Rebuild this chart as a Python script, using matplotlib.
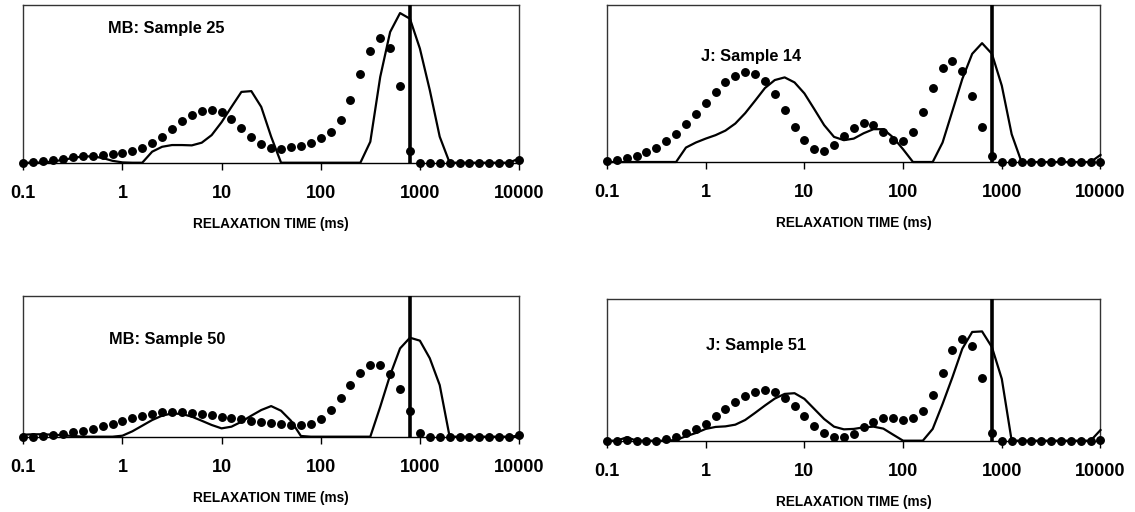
import numpy as np
import matplotlib
matplotlib.use("Agg")
import matplotlib.pyplot as plt

plt.rcParams['font.family'] = ['Liberation Sans', 'DejaVu Sans']
plt.rcParams['font.weight'] = 'bold'

# relaxation time grid (ms), 10 points per decade
t_ms = np.logspace(-1, 4, 51)
t_cut = t_ms[39]   # vertical marker ~ 800 ms

# relative amplitude (fraction of frame height)
mb25_dots = [0, 0.002, 0.01, 0.015, 0.025, 0.036, 0.042, 0.044, 0.046, 0.055,
             0.061, 0.076, 0.095, 0.127, 0.165, 0.215, 0.262, 0.304, 0.331, 0.335,
             0.319, 0.276, 0.222, 0.165, 0.116, 0.095, 0.084, 0.099, 0.108, 0.127,
             0.154, 0.192, 0.274, 0.399, 0.563, 0.711, 0.789, 0.728, 0.485, 0.076,
             0, 0, 0, 0, 0, 0, 0, 0, 0, 0, 0.015]
mb25_line = [0, 0, 0.002, 0.008, 0.018, 0.03, 0.04, 0.04, 0.03, 0.012,
             0.002, 0, 0, 0.07, 0.101, 0.112, 0.112, 0.11, 0.127, 0.175,
             0.257, 0.354, 0.449, 0.454, 0.354, 0.165, 0, 0, 0, 0,
             0, 0, 0, 0, 0, 0.133, 0.544, 0.829, 0.949, 0.913,
             0.724, 0.46, 0.165, 0, 0, 0, 0, 0, 0, 0, 0.027]

j14_dots = [0.004, 0.015, 0.028, 0.038, 0.062, 0.092, 0.132, 0.179, 0.239, 0.303,
            0.375, 0.443, 0.507, 0.548, 0.571, 0.563, 0.514, 0.435, 0.333, 0.226,
            0.139, 0.081, 0.072, 0.107, 0.164, 0.217, 0.247, 0.237, 0.19, 0.143,
            0.134, 0.194, 0.32, 0.471, 0.599, 0.646, 0.578, 0.42, 0.224, 0.038,
            0, 0, 0, 0, 0, 0, 0.008, 0, 0, 0, 0]
j14_line = [0, 0, 0, 0, 0, 0, 0, 0, 0.092, 0.124,
            0.149, 0.171, 0.2, 0.245, 0.311, 0.39, 0.471, 0.522, 0.539, 0.507,
            0.437, 0.337, 0.235, 0.16, 0.139, 0.149, 0.183, 0.209, 0.209, 0.156,
            0.081, 0, 0, 0, 0.124, 0.326, 0.529, 0.689, 0.757, 0.689,
            0.486, 0.177, 0, 0, 0, 0, 0, 0, 0, 0, 0.045]

mb50_dots = [0, 0, 0.005, 0.012, 0.021, 0.031, 0.043, 0.057, 0.073, 0.092,
             0.111, 0.13, 0.147, 0.161, 0.173, 0.177, 0.177, 0.17, 0.161, 0.151,
             0.142, 0.132, 0.125, 0.113, 0.106, 0.099, 0.087, 0.083, 0.08, 0.092,
             0.125, 0.187, 0.272, 0.366, 0.449, 0.506, 0.506, 0.444, 0.336, 0.18,
             0.024, 0, 0, 0, 0, 0, 0, 0, 0, 0, 0.012]
mb50_line = [0.014, 0.017, 0.017, 0.014, 0.01, 0.005, 0, 0, 0, 0,
             0.007, 0.038, 0.078, 0.118, 0.149, 0.165, 0.161, 0.142, 0.113, 0.083,
             0.059, 0.071, 0.106, 0.149, 0.189, 0.217, 0.184, 0.113, 0.005, 0,
             0, 0, 0, 0, 0, 0, 0.212, 0.437, 0.626, 0.702,
             0.681, 0.556, 0.366, 0, 0, 0, 0, 0, 0, 0, 0.007]

j51_dots = [0, 0, 0.007, 0, 0, 0, 0.009, 0.028, 0.052, 0.083,
            0.12, 0.172, 0.226, 0.276, 0.316, 0.347, 0.361, 0.347, 0.304, 0.248,
            0.175, 0.104, 0.052, 0.024, 0.026, 0.05, 0.097, 0.134, 0.163, 0.163,
            0.149, 0.163, 0.212, 0.323, 0.481, 0.637, 0.719, 0.665, 0.439, 0.057,
            0, 0, 0, 0, 0, 0, 0, 0, 0, 0, 0.007]
j51_line = [0, 0, 0.024, 0, 0, 0, 0, 0.005, 0.031, 0.054,
            0.083, 0.097, 0.101, 0.113, 0.146, 0.196, 0.248, 0.297, 0.33, 0.335,
            0.295, 0.224, 0.153, 0.099, 0.08, 0.083, 0.094, 0.099, 0.085, 0.042,
            0, 0, 0, 0.083, 0.259, 0.448, 0.649, 0.767, 0.771, 0.66,
            0.436, 0, 0, 0, 0, 0, 0, 0, 0, 0, 0.075]

titles = ['MB: Sample 25', 'J: Sample 14', 'MB: Sample 50', 'J: Sample 51']
dots = [mb25_dots, j14_dots, mb50_dots, j51_dots]
lines = [mb25_line, j14_line, mb50_line, j51_line]
xticks = [0.1, 1, 10, 100, 1000, 10000]
xticklabels = ['0.1', '1', '10', '100', '1000', '10000']

# axes boxes [left, bottom, width, height] in figure fraction
boxes = [[0.0205, 0.6822, 0.4368, 0.308],
         [0.5348, 0.6836, 0.4348, 0.3066],
         [0.0205, 0.1471, 0.4368, 0.2754],
         [0.5348, 0.1393, 0.4348, 0.2768]]
label_pos = [(0.17, 0.85), (0.19, 0.67), (0.173, 0.686), (0.20, 0.675)]

fig = plt.figure(figsize=(11.35, 5.12), dpi=100)

for i in range(4):
    ax = fig.add_axes(boxes[i])
    ax.plot(t_ms, lines[i], color='black', lw=1.6, clip_on=False, zorder=3)
    ax.plot(t_ms, dots[i], 'o', color='black', ms=5.4, mec='black',
            clip_on=False, zorder=4)
    ax.axvline(t_cut, color='black', lw=2.6, zorder=5)
    ax.set_xscale('log')
    ax.set_xlim(0.1, 10000)
    ax.set_ylim(0, 1)
    ax.set_yticks([])
    ax.set_xticks(xticks)
    ax.set_xticklabels(xticklabels, fontsize=13, fontweight='bold')
    ax.xaxis.set_minor_locator(matplotlib.ticker.NullLocator())
    ax.tick_params(axis='x', direction='out', length=5, width=1, pad=11)
    for s in ax.spines.values():
        s.set_color('#333333')
        s.set_linewidth(1.0)
    ax.spines['bottom'].set_color('black')
    ax.set_xlabel('RELAXATION TIME (ms)', fontsize=9.8, fontweight='bold',
                  labelpad=11)
    ax.text(label_pos[i][0], label_pos[i][1], titles[i], transform=ax.transAxes,
            fontsize=11.8, fontweight='bold', va='center', ha='left')

fig.savefig('out.png', dpi=100)
